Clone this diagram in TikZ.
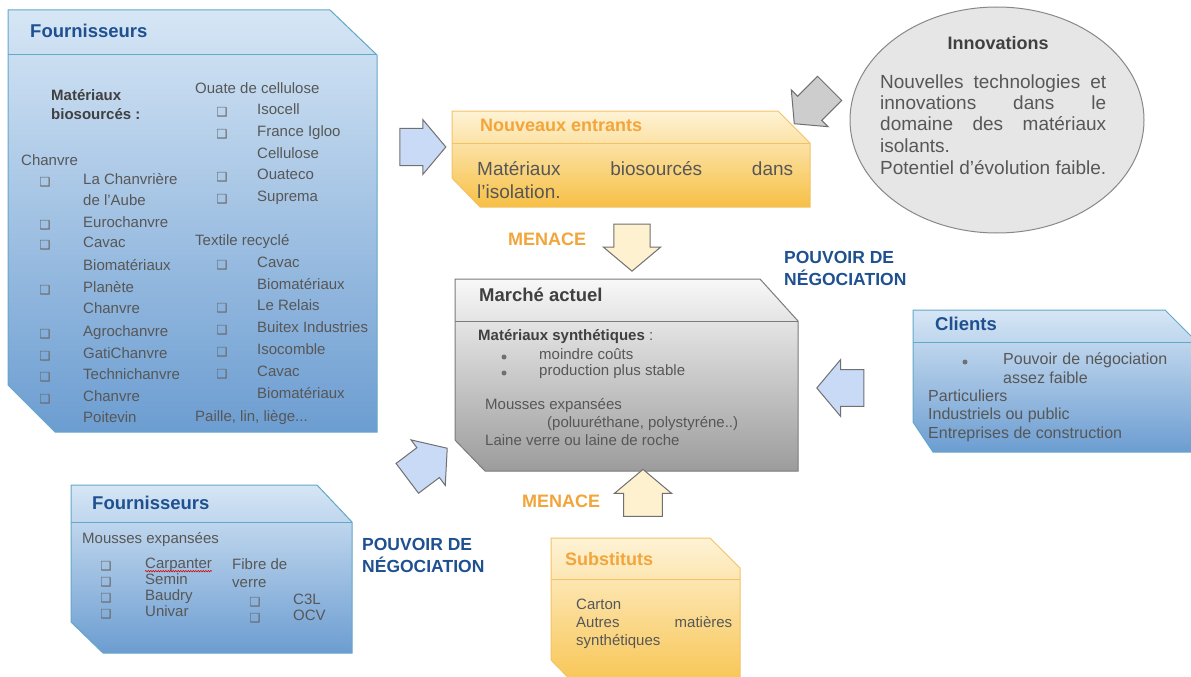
\documentclass[tikz,border=0pt]{standalone}
\usepackage{fontspec}
\setmainfont{Liberation Sans}
\newfontfamily\symbfont{DejaVu Sans}
\usepackage{tikz}
\usetikzlibrary{shapes.arrows,decorations.pathmorphing}

\definecolor{titleblue}{HTML}{1F5090}
\definecolor{menaceorange}{HTML}{F2A53A}
\definecolor{bodygray}{HTML}{575757}
\definecolor{titlegray}{HTML}{404040}
\definecolor{boxblueline}{HTML}{62A8C8}
\definecolor{boxbluetop}{HTML}{D6E6F5}
\definecolor{boxbluebot}{HTML}{6C9DD1}
\definecolor{boxyellowline}{HTML}{F4C266}
\definecolor{boxyellowtop}{HTML}{FEF3D6}
\definecolor{boxyellowbot}{HTML}{F7C045}
\definecolor{boxgrayline}{HTML}{7B7B7B}
\definecolor{boxgraytop}{HTML}{F8F8F8}
\definecolor{boxgraybot}{HTML}{9C9C9C}
\definecolor{arrowline}{HTML}{707070}
\definecolor{arrowblue}{HTML}{C9DAF6}
\definecolor{arrowyellow}{HTML}{FDF1CF}
\definecolor{arrowgray}{HTML}{CDCDCD}
\definecolor{innofill}{HTML}{E6E6E6}

\newcommand{\fs}[1]{\fontsize{#1}{#1}\selectfont}
\newcommand{\chk}{❑}

\begin{document}
\begin{tikzpicture}[x=1pt,y=-1pt,
    txt/.style={inner sep=0pt,anchor=mid west,text=bodygray,font=\fs{15}},
    boldtxt/.style={txt,text=titlegray,font=\fs{15}\bfseries},
    bluetitle/.style={txt,text=titleblue,font=\fs{18.5}\bfseries},
    orangetitle/.style={txt,text=menaceorange,font=\fs{18}\bfseries},
    graytitle/.style={txt,text=titlegray,font=\fs{18.5}\bfseries},
    chkbox/.style={inner sep=0pt,anchor=center,text=titlegray!80,font=\symbfont\fs{12.5}},
    dot/.style={circle,inner sep=0pt,minimum size=5pt,fill=bodygray!85},
    blueshape/.style={draw=boxblueline,line width=1pt,top color=boxbluetop,bottom color=boxbluebot},
    yellowshape/.style={draw=boxyellowline,line width=1pt,top color=boxyellowtop,bottom color=boxyellowbot},
    grayshape/.style={draw=boxgrayline,line width=1pt,top color=boxgraytop,bottom color=boxgraybot},
    blockarrow/.style={single arrow,draw=arrowline,line width=1pt,anchor=center,inner sep=0pt,
        minimum height=47pt,minimum width=57pt,single arrow tip angle=100}
]
    \path[use as bounding box,fill=white] (0,0) rectangle (1191,677);
    \clip (0,0) rectangle (1191,677);

    \draw[blueshape] (8,10) -- (330,10) -- (377,55) -- (377,432) -- (55,432) -- (8,385) -- cycle;
    \draw[boxblueline,line width=1pt] (8,55) -- (377,55);
    \node[bluetitle] (fourn1) at (30,35) {Fournisseurs};
    \node[boldtxt] (matbio) at (51,98) {Matériaux};
    \node[boldtxt] (matbio2) at (51,117) {biosourcés :};
    \node[txt] (chanvre) at (21,163) {Chanvre};
    \foreach \y/\nom in {182/La Chanvrière, 203/de l'Aube, 225/Eurochanvre, 245/Cavac,
        268/Biomatériaux, 290/Planète, 311/Chanvre, 334/Agrochanvre, 356/GatiChanvre,
        377/Technichanvre, 399/Chanvre, 420/Poitevin}
        \node[txt] (chv\y) at (83,\y) {\nom};
    \foreach \y in {182,225,245,290,334,356,377,399}
        \node[chkbox] (chkc\y) at (45,\y) {\chk};
    \node[txt] (ouate) at (195,91) {Ouate de cellulose};
    \foreach \y/\nom in {112/Isocell, 134/France Igloo, 156/Cellulose, 177/Ouateco, 199/Suprema}
        \node[txt] (ou\y) at (257,\y) {\nom};
    \foreach \y in {112,134,177,199}
        \node[chkbox] (chko\y) at (222,\y) {\chk};
    \node[txt] (textile) at (195,243) {Textile recyclé};
    \foreach \y/\nom in {265/Cavac, 287/Biomatériaux, 308/Le Relais, 330/Buitex Industries,
        352/Isocomble, 374/Cavac, 396/Biomatériaux}
        \node[txt] (tx\y) at (257,\y) {\nom};
    \foreach \y in {265,308,330,352,374}
        \node[chkbox] (chkt\y) at (222,\y) {\chk};
    \node[txt] (paille) at (195,419) {Paille, lin, liège...};

    \draw[yellowshape] (452,111) -- (778,111) -- (810,143) -- (810,207) -- (480,207) -- (452,178) -- cycle;
    \draw[boxyellowline,line width=1pt] (452,143) -- (810,143);
    \node[orangetitle] (nouveaux) at (480,129) {Nouveaux entrants};
    \node[txt,font=\fs{19}] (nouv1) at (477,173) {\makebox[316pt][s]{Matériaux biosourcés dans}};
    \node[txt,font=\fs{19}] (nouv2) at (477,196) {l’isolation.};

    \draw[line width=1pt,draw=boxgrayline!90,fill=innofill] (997,120) ellipse (147 and 113);
    \node[graytitle,anchor=mid,font=\fs{18}\bfseries] (inno) at (998,47) {Innovations};
    \node[txt,font=\fs{19}] (inno1) at (880,86) {\makebox[226pt][s]{Nouvelles technologies et}};
    \node[txt,font=\fs{19}] (inno2) at (880,107) {\makebox[226pt][s]{innovations dans le}};
    \node[txt,font=\fs{19}] (inno3) at (880,128) {\makebox[226pt][s]{domaine des matériaux}};
    \node[txt,font=\fs{19}] (inno4) at (880,150) {isolants.};
    \node[txt,font=\fs{19}] (inno5) at (880,172) {Potentiel d'évolution faible.};

    \draw[grayshape] (455,279) -- (760,279) -- (798,321) -- (798,471) -- (485,471) -- (455,440) -- cycle;
    \draw[boxgrayline,line width=1pt] (455,321) -- (798,321);
    \node[graytitle] (marche) at (479,299) {Marché actuel};
    \node[txt] (synth) at (478,338) {{\color{titlegray}\bfseries Matériaux synthétiques} :};
    \node[dot] (dot1) at (504,357) {};
    \node[dot] (dot2) at (504,373) {};
    \node[txt] (couts) at (539,357) {moindre coûts};
    \node[txt] (stable) at (539,373) {production plus stable};
    \node[txt] (mousses) at (485,407) {Mousses expansées};
    \node[txt] (polyu) at (547,425) {(poluuréthane, polystyréne..)};
    \node[txt] (laine) at (485,443) {Laine verre ou laine de roche};

    \draw[blueshape] (913,310) -- (1165,310) -- (1199,344) -- (1199,452) -- (933,452) -- (913,422) -- cycle;
    \draw[boxblueline,line width=1pt] (913,342) -- (1199,342);
    \node[bluetitle] (clients) at (935,328) {Clients};
    \node[dot] (dot3) at (965,362) {};
    \node[txt,font=\fs{16}] (pouv) at (1003,362) {\makebox[164pt][s]{Pouvoir de négociation}};
    \node[txt,font=\fs{16}] (faible) at (1003,381) {assez faible};
    \node[txt,font=\fs{16}] (partic) at (928,399) {Particuliers};
    \node[txt,font=\fs{16}] (indus) at (928,417) {Industriels ou public};
    \node[txt,font=\fs{16}] (entre) at (928,436) {Entreprises de construction};

    \draw[blueshape] (71,485) -- (317,485) -- (352,522) -- (352,653) -- (103,653) -- (71,622) -- cycle;
    \draw[boxblueline,line width=1pt] (71,522) -- (352,522);
    \node[bluetitle] (fourn2) at (92,507) {Fournisseurs};
    \node[txt] (mousses2) at (82,541) {Mousses expansées};
    \foreach \y/\nom in {566/Carpanter, 582/Semin, 598/Baudry, 614/Univar}
        \node[txt] (mo\y) at (145,\y) {\nom};
    \foreach \y in {566,582,598,614}
        \node[chkbox] (chkm\y) at (106,\y) {\chk};
    \draw[red!85!black,line width=0.6pt,decorate,decoration={snake,amplitude=0.7pt,segment length=2.5pt}]
        ([yshift=-2.5pt]mo566.base west) -- ([yshift=-2.5pt]mo566.base east);
    \node[txt] (fibre) at (232,567) {Fibre de};
    \node[txt] (verre) at (232,585) {verre};
    \node[txt] (c3l) at (293,602) {C3L};
    \node[txt] (ocv) at (293,618) {OCV};
    \node[chkbox] (chkf1) at (255,602) {\chk};
    \node[chkbox] (chkf2) at (255,618) {\chk};

    \draw[yellowshape] (551,538) -- (710,538) -- (740,568) -- (740,700) -- (590,700) -- (551,660) -- cycle;
    \draw[boxyellowline,line width=1pt] (551,579) -- (740,579);
    \node[orangetitle] (subst) at (565,563) {Substituts};
    \node[txt] (carton) at (576,607) {Carton};
    \node[txt] (autres) at (576,625) {\makebox[156pt][s]{Autres matières}};
    \node[txt] (synthe) at (576,643) {synthétiques};

    \node[orangetitle] (menace1) at (508,243) {MENACE};
    \node[orangetitle] (menace2) at (522,505) {MENACE};
    \node[bluetitle,font=\fs{17.5}\bfseries] (nego1a) at (784,261) {POUVOIR DE};
    \node[bluetitle,font=\fs{17.5}\bfseries] (nego1b) at (784,283) {NÉGOCIATION};
    \node[bluetitle,font=\fs{17.5}\bfseries] (nego2a) at (362,548) {POUVOIR DE};
    \node[bluetitle,font=\fs{17.5}\bfseries] (nego2b) at (362,570) {NÉGOCIATION};

    \node[blockarrow,fill=arrowblue,inner ysep=14.5pt,minimum height=46pt,minimum width=55pt] (flechefourn1) at (415,147) {};
    \node[blockarrow,fill=arrowgray,inner ysep=13pt,minimum height=50pt,minimum width=52pt,rotate=225] (flecheinno) at (817,101) {};
    \node[blockarrow,fill=arrowyellow,inner ysep=12pt,rotate=-90] (flechenouv) at (632,240) {};
    \node[blockarrow,fill=arrowyellow,inner ysep=14.5pt,rotate=90] (flechesubst) at (643,501) {};
    \node[blockarrow,fill=arrowblue,inner ysep=12.5pt,rotate=180] (flecheclients) at (848,388) {};
    \node[blockarrow,fill=arrowblue,inner ysep=13pt,minimum height=50pt,rotate=37] (flechefourn2) at (421,468) {};
\end{tikzpicture}
\end{document}
